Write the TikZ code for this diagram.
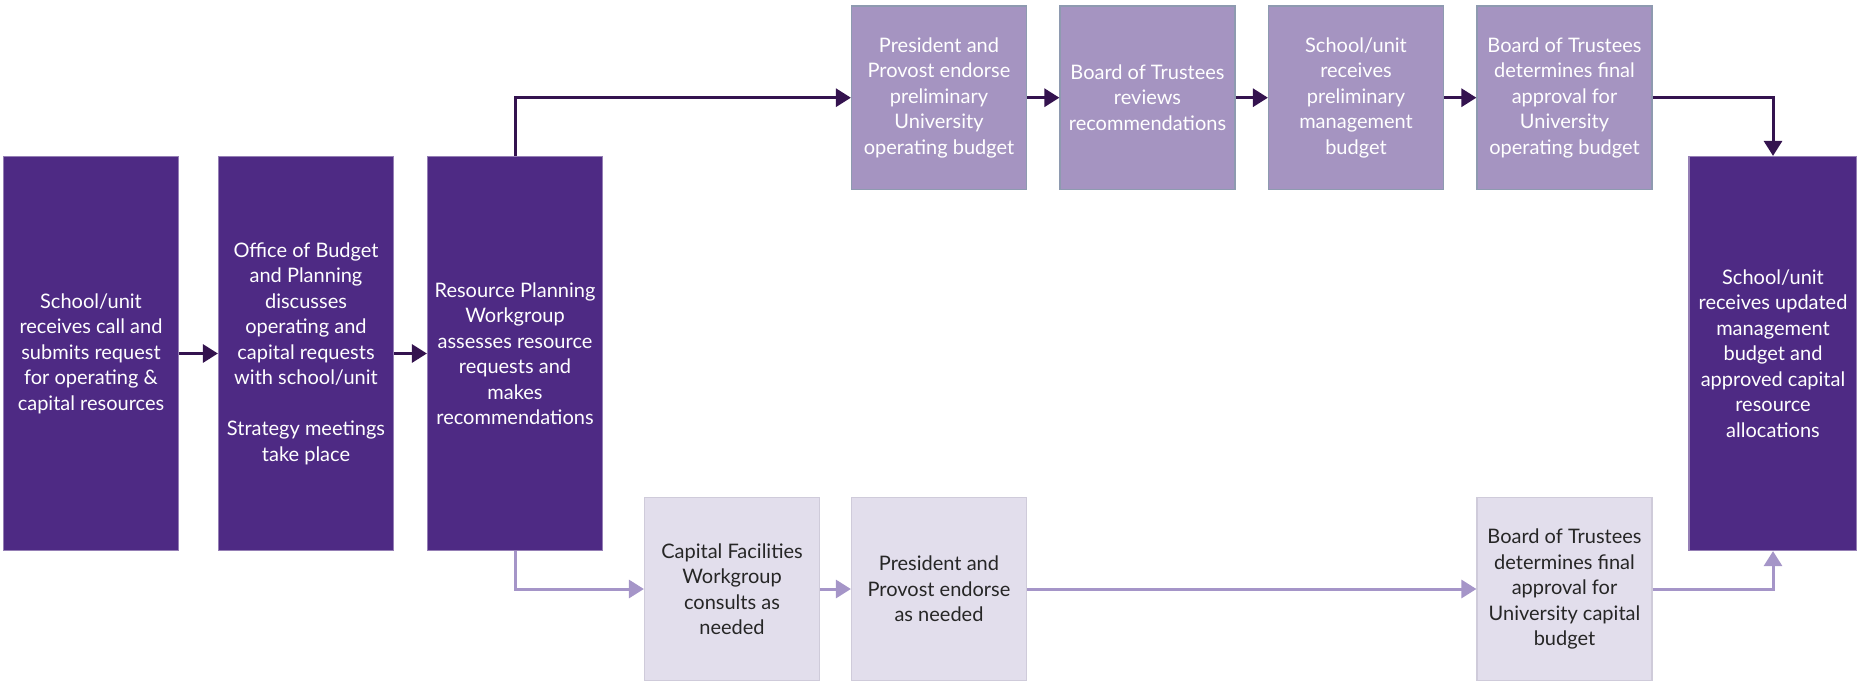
\documentclass[tikz,border=0pt]{standalone}
\usepackage{fontspec}
\setmainfont{Lato}
\usetikzlibrary{arrows.meta}
\definecolor{nwpurple}{HTML}{4E2A84}
\definecolor{oplight}{HTML}{A594C1}
\definecolor{opedge}{HTML}{8E9AB0}
\definecolor{caplight}{HTML}{E2DEEC}
\definecolor{capedge}{HTML}{CFCBDA}
\definecolor{opline}{HTML}{34134F}
\definecolor{capline}{HTML}{A595C8}

\begin{document}
\begin{tikzpicture}[
  x=0.5pt, y=-0.5pt,
  box/.style={rectangle, inner sep=0pt, align=center, line width=0.6pt,
    font=\fontsize{10}{12.75}\selectfont},
  mainbox/.style={box, fill=nwpurple, draw=nwpurple!60!white, text=white,
    minimum width=87.5pt, minimum height=197pt},
  opbox/.style={box, fill=oplight, draw=opedge, text=white,
    minimum width=87.5pt, minimum height=91.8pt},
  capbox/.style={box, fill=caplight, draw=capedge, text=black!85,
    minimum width=87.5pt, minimum height=91.8pt},
  oparrow/.style={draw=opline, line width=1.5pt, -{Triangle[length=7.5pt,width=9pt]}},
  caparrow/.style={draw=capline, line width=1.5pt, -{Triangle[length=7.5pt,width=9pt]}},
  ]
  \useasboundingbox (0,0) rectangle (1857,686);

  % main column boxes
  \node[mainbox] (request) at (91,353.5) {School/unit\\receives call and\\submits request\\for operating \&\\capital resources};
  \node[mainbox] (discuss) at (306,353.5) {Office of Budget\\and Planning\\discusses\\operating and\\capital requests\\with school/unit\\[12.75pt]Strategy meetings\\take place};
  \node[mainbox] (assess) at (515,353.5) {Resource Planning\\Workgroup\\assesses resource\\requests and\\makes\\recommendations};
  \node[mainbox, minimum width=84pt] (result) at (1773,353.5) {School/unit\\receives updated\\management\\budget and\\approved capital\\resource\\allocations};

  % operating budget track
  \node[opbox] (opendorse) at (939,97.7) {President and\\Provost endorse\\preliminary\\University\\operating budget};
  \node[opbox] (opreview) at (1147.5,97.7) {Board of Trustees\\reviews\\recommendations};
  \node[opbox] (opreceive) at (1356,97.7) {School/unit\\receives\\preliminary\\management\\budget};
  \node[opbox] (opapprove) at (1564.5,97.7) {Board of Trustees\\determines final\\approval for\\University\\operating budget};

  % capital budget track
  \node[capbox] (capconsult) at (732,589) {Capital Facilities\\Workgroup\\consults as\\needed};
  \node[capbox] (capendorse) at (939,589) {President and\\Provost endorse\\as needed};
  \node[capbox] (capapprove) at (1564.5,589) {Board of Trustees\\determines final\\approval for\\University capital\\budget};

  % connectors
  \draw[oparrow] (request) -- (discuss);
  \draw[oparrow] (discuss) -- (assess);
  \draw[oparrow] (assess.north) |- (opendorse.west);
  \draw[oparrow] (opendorse) -- (opreview);
  \draw[oparrow] (opreview) -- (opreceive);
  \draw[oparrow] (opreceive) -- (opapprove);
  \draw[oparrow] (opapprove.east) -| (result.north);

  \draw[caparrow] (assess.south) |- (capconsult.west);
  \draw[caparrow] (capconsult) -- (capendorse);
  \draw[caparrow] (capendorse) -- (capapprove);
  \draw[caparrow] (capapprove.east) -| (result.south);
\end{tikzpicture}
\end{document}
